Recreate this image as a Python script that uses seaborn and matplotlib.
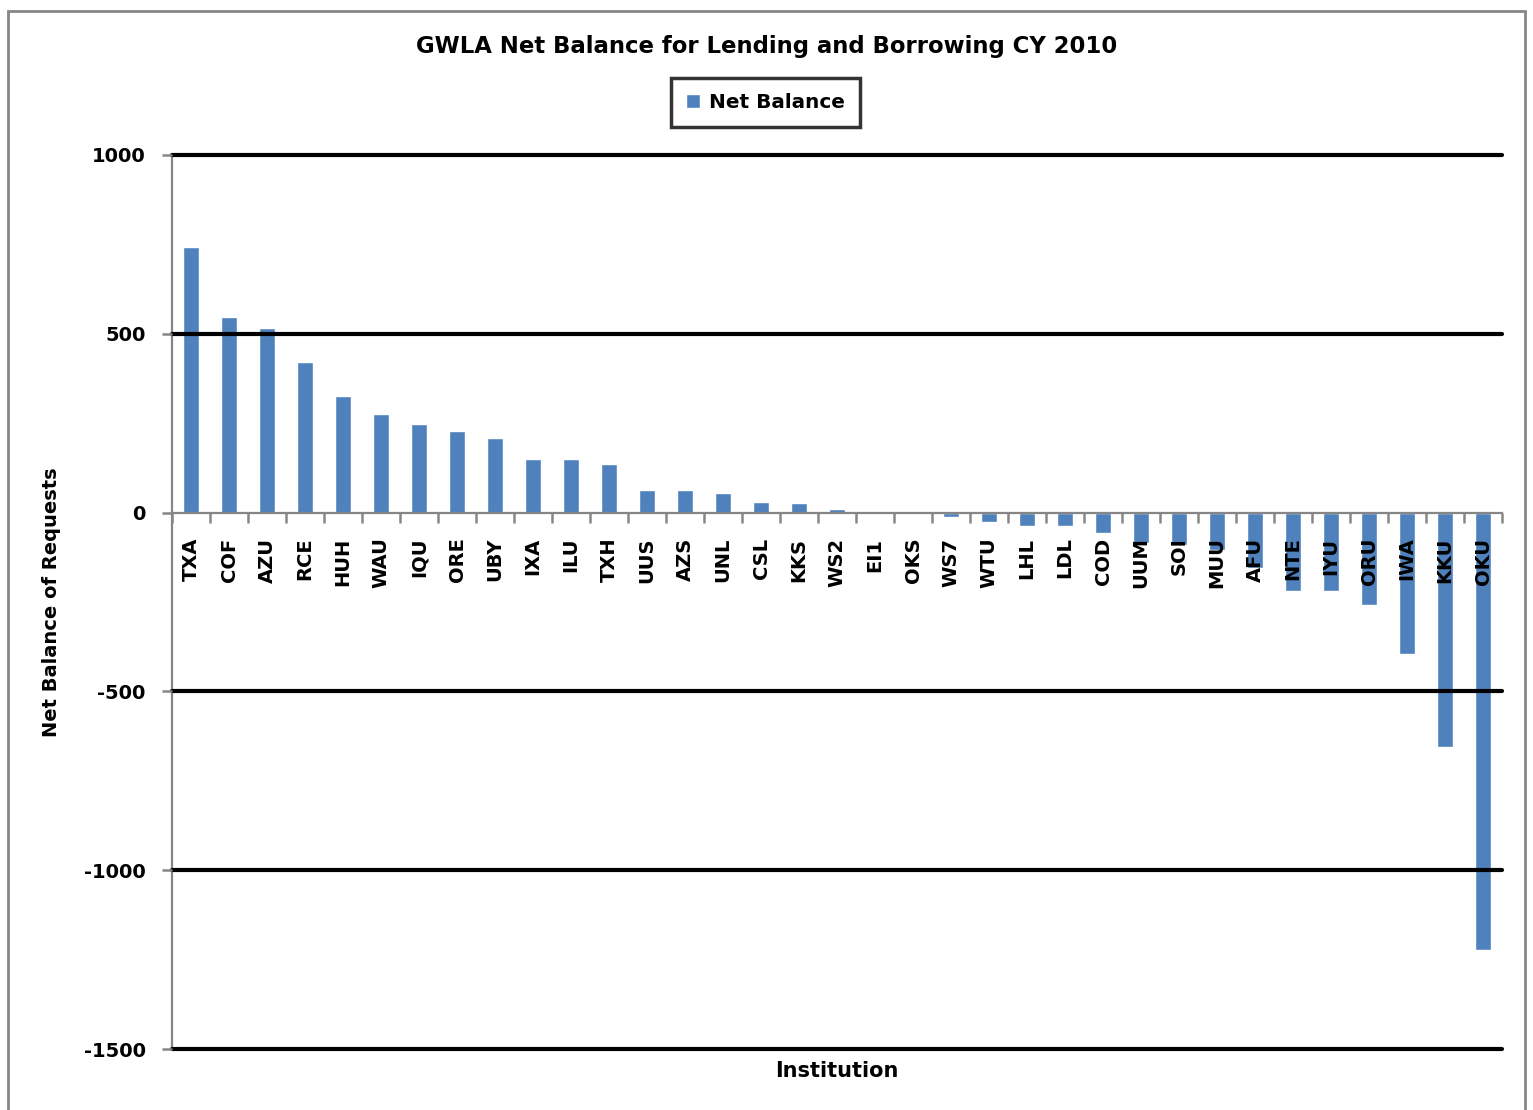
import matplotlib
matplotlib.use("Agg")
import matplotlib.pyplot as plt
import seaborn as sns
import numpy as np
from matplotlib.patches import Rectangle

# data
institutions = ["TXA", "COF", "AZU", "RCE", "HUH", "WAU", "IQU", "ORE", "UBY", "IXA",
                "ILU", "TXH", "UUS", "AZS", "UNL", "CSL", "KKS", "WS2", "EI1", "OKS",
                "WS7", "WTU", "LHL", "LDL", "COD", "UUM", "SOI", "MUU", "AFU", "NTE",
                "IYU", "ORU", "IWA", "KKU", "OKU"]
net_balance = [742, 547, 515, 420, 327, 276, 247, 228, 209, 149,
               149, 135, 64, 64, 55, 31, 26, 9, 0, 0,
               -11, -27, -37, -37, -56, -85, -90, -105, -155, -220,
               -220, -257, -396, -656, -1222]
y_ticks = [-1500, -1000, -500, 0, 500, 1000]

sns.set_style("white")
plt.rcParams["font.family"] = ["DejaVu Sans"]
plt.rcParams["axes.unicode_minus"] = False
plt.rcParams["text.color"] = "black"
plt.rcParams["axes.labelcolor"] = "black"
plt.rcParams["xtick.labelcolor"] = "black"
plt.rcParams["ytick.labelcolor"] = "black"

fig = plt.figure(figsize=(15.33, 11.10), dpi=100)
ax = fig.add_axes([0.1122, 0.0549, 0.8676, 0.8055])

sns.barplot(x=institutions, y=net_balance, color="#4F81BD", width=0.4,
            saturation=1, label="Net Balance", ax=ax)

gray = "#868686"
ax.set_ylim(-1500, 1000)
ax.set_xlim(-0.5, len(institutions) - 0.5)
ax.set_yticks(y_ticks)
ax.yaxis.grid(True, color="black", linewidth=3)
ax.set_axisbelow(False)
for val, gl in zip(y_ticks, ax.yaxis.get_gridlines()):
    gl.set_clip_on(False)
    if val == 0:
        gl.set_visible(False)  # the category axis sits here instead

# x axis sits on zero like in Excel
ax.spines["bottom"].set_position(("data", 0))
ax.spines["bottom"].set_color(gray)
ax.spines["bottom"].set_linewidth(1.6)
ax.spines["bottom"].set_zorder(3)
ax.spines["left"].set_color(gray)
ax.spines["left"].set_linewidth(1.6)
ax.spines["top"].set_visible(False)
ax.spines["right"].set_visible(False)

ax.set_xticks(np.arange(-0.5, len(institutions), 1), minor=True)
ax.tick_params(axis="x", which="major", bottom=True, length=0, pad=18, labelsize=14, rotation=90)
ax.tick_params(axis="x", which="minor", bottom=True, length=7, width=1.8, color=gray, direction="out")
ax.tick_params(axis="y", left=True, length=7, width=1.8, color=gray, direction="out", pad=12, labelsize=14)
for lbl in ax.get_xticklabels():
    lbl.set_fontweight("bold")
    lbl.set_va("top")
for lbl in ax.get_yticklabels():
    lbl.set_fontweight("bold")

ax.set_xlabel("")
ax.set_ylabel("Net Balance of Requests", fontsize=14, fontweight="bold", labelpad=16)
fig.text(0.546, 0.035, "Institution", ha="center", va="center", fontsize=15, fontweight="bold")
fig.text(0.5, 0.958, "GWLA Net Balance for Lending and Borrowing CY 2010",
         ha="center", va="center", fontsize=16.4, fontweight="bold")

leg = ax.legend(loc="center", bbox_to_anchor=(0.4995, 0.9075), bbox_transform=fig.transFigure,
                frameon=True, fancybox=False, fontsize=14.4, handlelength=0.7,
                handleheight=0.7, borderpad=0.75, handletextpad=0.45, borderaxespad=0)
leg.get_frame().set_edgecolor("black")
leg.get_frame().set_linewidth(2.5)
for t in leg.get_texts():
    t.set_fontweight("bold")
    t.set_color("black")

# outer chart border
fig.patches.append(Rectangle((0.005, -0.01), 0.99, 1.0, transform=fig.transFigure,
                             fill=False, edgecolor=gray, linewidth=2))

fig.savefig("out.png", dpi=100)
